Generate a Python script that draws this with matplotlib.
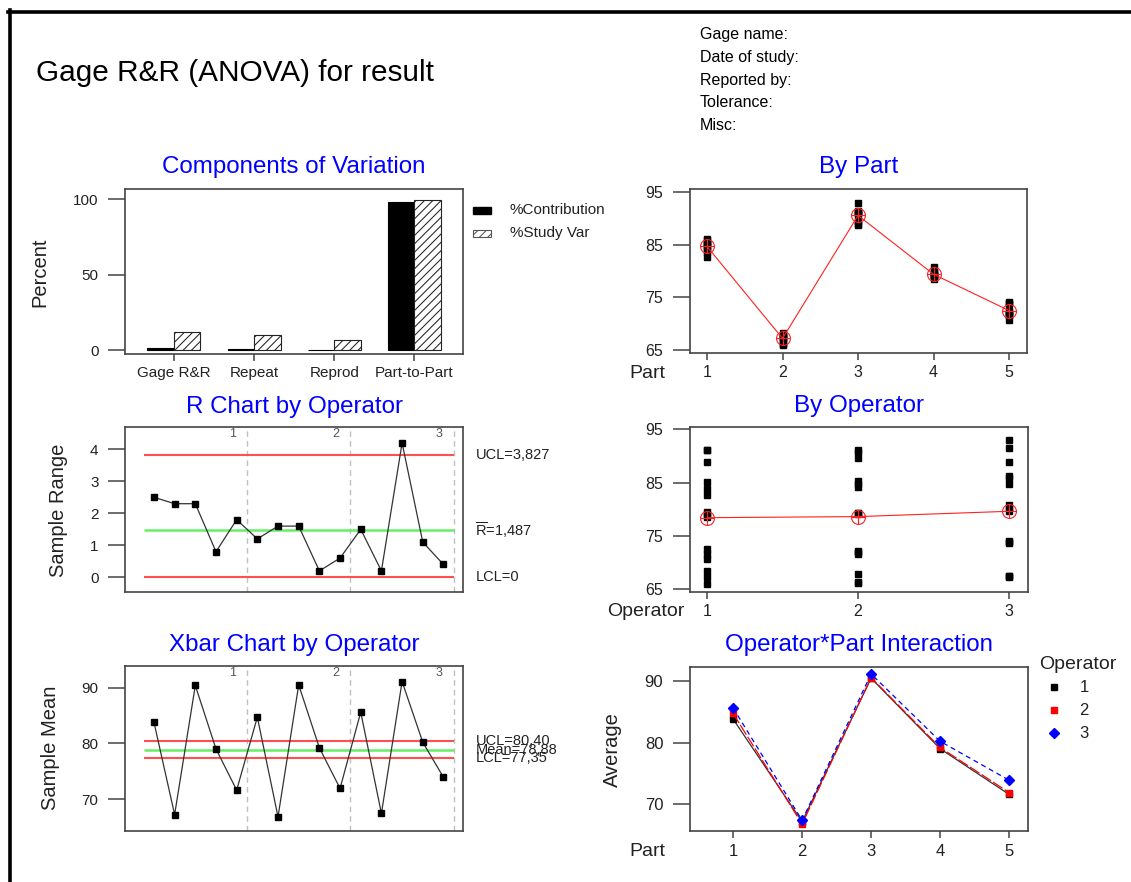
import numpy as np
import matplotlib
matplotlib.use("Agg")
import matplotlib.pyplot as plt
from matplotlib.patches import Rectangle
from matplotlib.lines import Line2D

plt.rcParams['font.family'] = ['Liberation Sans', 'DejaVu Sans']
plt.rcParams['mathtext.fontset'] = 'custom'
plt.rcParams['mathtext.rm'] = 'Liberation Sans'
plt.rcParams['hatch.linewidth'] = 0.75

# ---------------- data ----------------
main_title = "Gage R&R (ANOVA) for result"
header_fields = ["Gage name:", "Date of study:", "Reported by:", "Tolerance:", "Misc:"]

components = ["Gage R&R", "Repeat", "Reprod", "Part-to-Part"]
pct_contribution = [1.45, 1.0, 0.45, 98.5]
pct_study_var = [12.0, 9.9, 6.6, 99.2]

operators = [1, 2, 3]
parts = [1, 2, 3, 4, 5]

# sample ranges (per operator, parts 1..5)
range_op1 = [2.5, 2.3, 2.3, 0.8, 1.8]
range_op2 = [1.2, 1.6, 1.6, 0.2, 0.6]
range_op3 = [1.5, 0.2, 4.2, 1.1, 0.4]
r_ucl, r_center, r_lcl = 3.827, 1.487, 0.0
r_labels = ["UCL=3,827", r"$\overline{\mathrm{R}}$=1,487", "LCL=0"]

# sample means (per operator, parts 1..5)
xbar_op1 = [83.8, 67.2, 90.4, 79.0, 71.6]
xbar_op2 = [84.7, 66.8, 90.5, 79.2, 71.9]
xbar_op3 = [85.6, 67.4, 91.1, 80.2, 73.9]
x_ucl, x_center, x_lcl = 80.40, 78.88, 77.35
x_labels = ["UCL=80,40", "Mean=78,88", "LCL=77,35"]

# individual measurements (3 replicates for parts 1..5)
meas_op1 = [82.6, 83.7, 85.1, 66.0, 68.3, 67.3, 88.9, 91.2, 91.1,
            78.6, 79.4, 79.0, 70.7, 72.5, 71.6]
meas_op2 = [84.1, 85.3, 84.7, 66.2, 67.8, 66.4, 89.6, 91.2, 90.7,
            79.1, 79.3, 79.2, 71.6, 72.2, 71.9]
meas_op3 = [84.7, 86.2, 85.9, 67.3, 67.5, 67.4, 88.8, 93.0, 91.5,
            79.6, 80.7, 80.3, 73.7, 74.1, 73.9]

part_means = [84.7, 67.2, 90.6, 79.4, 72.5]
operator_means = [78.4, 78.6, 79.6]

# ---------------- figure ----------------
W, H = 1131, 882
fig = plt.figure(figsize=(W / 100, H / 100), dpi=100)
fig.patch.set_facecolor('white')

def add_ax(x0, y0, x1, y1):
    return fig.add_axes([x0 / W, 1 - y1 / H, (x1 - x0) / W, (y1 - y0) / H])

def ftext(px, py, s, **kw):
    kw.setdefault('va', 'center')
    return fig.text(px / W, 1 - py / H, s, **kw)

EDGE = '#444444'
TXT = '#222222'

def style(ax, xticks=True, ysize=11, xsize=11):
    for sp in ax.spines.values():
        sp.set_color(EDGE)
        sp.set_linewidth(1.2)
    ax.tick_params(axis='y', length=12, width=1.1, color=EDGE, pad=7,
                   labelsize=ysize, labelcolor=TXT)
    if xticks:
        ax.tick_params(axis='x', length=5.3, width=1.1, color=EDGE, pad=3,
                       labelsize=xsize, labelcolor=TXT)
    else:
        ax.tick_params(axis='x', length=0, labelbottom=False)

# figure border (top and left)
fig.add_artist(Line2D([8 / W, 1.0], [1 - 12 / H, 1 - 12 / H], color='black',
                      lw=2.6, transform=fig.transFigure))
fig.add_artist(Line2D([10 / W, 10 / W], [1 - 10 / H, 0.0], color='black',
                      lw=2.6, transform=fig.transFigure))

# header
ftext(36, 73, main_title, fontsize=21.4, ha='left', color='black')
for i, s in enumerate(header_fields):
    ftext(700, 35 + i * 22.5, s, fontsize=11.5, ha='left', color='black')

BLUE = '#0000ff'
RED = '#ff5050'
GREEN = '#66ee66'
TSIZE = 17.4

# ---------------- Components of Variation ----------------
ax1 = add_ax(125, 189.3, 463.3, 354.3)
xc = np.arange(len(components))
bw = 0.33
ax1.bar(xc - bw / 2, pct_contribution, width=bw, color='black',
        edgecolor='black', linewidth=0.8)
ax1.bar(xc + bw / 2, pct_study_var, width=bw, color='white',
        edgecolor='#222222', hatch='////', linewidth=0.8)
ax1.set_xlim(-0.61, 3.61)
ax1.set_ylim(-2.65, 106.6)
ax1.set_yticks([0, 50, 100])
ax1.set_xticks(xc)
ax1.set_xticklabels(components)
style(ax1)
ftext(294, 167, "Components of Variation", fontsize=TSIZE, ha='center', color=BLUE)
ftext(39.5, 272, "Percent", fontsize=14.5, ha='center', rotation=90, color=TXT)
# legend
fig.add_artist(Rectangle((472.7 / W, 1 - 213.5 / H), 18 / W, 7 / H,
                         facecolor='black', edgecolor='black',
                         transform=fig.transFigure))
fig.add_artist(Rectangle((472.7 / W, 1 - 236.5 / H), 18 / W, 7 / H,
                         facecolor='white', edgecolor='#555555', hatch='////',
                         lw=0.8, transform=fig.transFigure))
ftext(510, 209.5, "%Contribution", fontsize=11, ha='left', color=TXT)
ftext(510, 232.5, "%Study Var", fontsize=11, ha='left', color=TXT)

# ---------------- R chart ----------------
ranges = range_op1 + range_op2 + range_op3
pos = np.arange(1, len(ranges) + 1)
ax2 = add_ax(125, 427.3, 463.3, 592.3)
bounds = [5.5, 10.5, 15.5]
for b in bounds:
    ax2.axvline(b, color='#c0c0c0', ls=(0, (4, 3)), lw=1)
ax2.hlines([r_ucl, r_lcl], 0.5, 15.5, color=RED, lw=1.5)
ax2.hlines([r_center], 0.5, 15.5, color=GREEN, lw=1.8)
ax2.plot(pos, ranges, color='#333333', lw=0.9, marker='s', ms=5,
         mfc='black', mec='black')
ax2.set_xlim(-0.40, 15.96)
ax2.set_ylim(-0.469, 4.688)
ax2.set_yticks([0, 1, 2, 3, 4])
style(ax2, xticks=False)
for b, op in zip(bounds, operators):
    ax2.text(b - 0.7, 0.962, str(op), transform=ax2.get_xaxis_transform(),
             ha='center', va='center', fontsize=9, color='#555555')
for v, s in zip([r_ucl, r_center, r_lcl], r_labels):
    ax2.text(1.036, v, s, transform=ax2.get_yaxis_transform(), ha='left',
             va='center', fontsize=10.5, color=TXT, clip_on=False)
ftext(294, 406.5, "R Chart by Operator", fontsize=TSIZE, ha='center', color=BLUE)
ftext(59, 510, "Sample Range", fontsize=14.5, ha='center', rotation=90, color=TXT)

# ---------------- Xbar chart ----------------
xbars = xbar_op1 + xbar_op2 + xbar_op3
ax3 = add_ax(125, 666, 463.3, 831)
for b in bounds:
    ax3.axvline(b, color='#c0c0c0', ls=(0, (4, 3)), lw=1)
ax3.hlines([x_ucl, x_lcl], 0.5, 15.5, color=RED, lw=1.5)
ax3.hlines([x_center], 0.5, 15.5, color=GREEN, lw=1.8)
ax3.plot(pos, xbars, color='#333333', lw=0.9, marker='s', ms=5,
         mfc='black', mec='black')
ax3.set_xlim(-0.40, 15.96)
ax3.set_ylim(64.25, 93.9)
ax3.set_yticks([70, 80, 90])
style(ax3, xticks=False)
for b, op in zip(bounds, operators):
    ax3.text(b - 0.7, 0.959, str(op), transform=ax3.get_xaxis_transform(),
             ha='center', va='center', fontsize=9, color='#555555')
for v, s in zip([x_ucl, x_center, x_lcl], x_labels):
    ax3.text(1.036, v, s, transform=ax3.get_yaxis_transform(), ha='left',
             va='center', fontsize=10.5, color=TXT, clip_on=False)
ftext(294, 645, "Xbar Chart by Operator", fontsize=TSIZE, ha='center', color=BLUE)
ftext(50, 748, "Sample Mean", fontsize=14.5, ha='center', rotation=90, color=TXT)

# ---------------- By Part ----------------
ax4 = add_ax(689.7, 189, 1027.4, 353.3)
for meas in (meas_op1, meas_op2, meas_op3):
    ax4.plot(np.repeat(parts, 3), meas, 's', color='black', ms=4.8, ls='none')
ax4.plot(parts, part_means, color='#ff2020', lw=0.8)
ax4.plot(parts, part_means, 'o', mfc='none', mec='#ff2020', ms=10, mew=0.8)
ax4.plot(parts, part_means, '+', color='#ff2020', ms=10, mew=0.8)
ax4.set_xlim(0.771, 5.242)
ax4.set_ylim(64.37, 95.63)
ax4.set_yticks([65, 75, 85, 95])
ax4.set_xticks(parts)
style(ax4, ysize=11.5, xsize=11.5)
ftext(858.6, 167.3, "By Part", fontsize=TSIZE, ha='center', color=BLUE)
ftext(647.4, 373, "Part", fontsize=14, ha='center', color=TXT)

# ---------------- By Operator ----------------
ax5 = add_ax(689.7, 427.3, 1028.4, 592.3)
for op, meas in zip(operators, (meas_op1, meas_op2, meas_op3)):
    ax5.plot([op] * len(meas), meas, 's', color='black', ms=4.8, ls='none')
ax5.plot(operators, operator_means, color='#ff2020', lw=0.8)
ax5.plot(operators, operator_means, 'o', mfc='none', mec='#ff2020', ms=10, mew=0.8)
ax5.plot(operators, operator_means, '+', color='#ff2020', ms=10, mew=0.8)
ax5.set_xlim(0.885, 3.128)
ax5.set_ylim(64.38, 95.38)
ax5.set_yticks([65, 75, 85, 95])
ax5.set_xticks(operators)
style(ax5, ysize=11.5, xsize=11.5)
ftext(858.6, 405.7, "By Operator", fontsize=TSIZE, ha='center', color=BLUE)
ftext(645.7, 611.7, "Operator", fontsize=14, ha='center', color=TXT)

# ---------------- Interaction ----------------
ax6 = add_ax(689.7, 666.7, 1028.4, 831)
op_styles = [
    dict(color='#333333', ls='-', marker='s', mfc='black', mec='black', ms=5),
    dict(color='red', ls=(0, (9, 2)), marker='s', mfc='red', mec='red', ms=5),
    dict(color='blue', ls=(0, (4, 3)), marker='D', mfc='blue', mec='blue', ms=5),
]
for xb, st in zip((xbar_op1, xbar_op2, xbar_op3), op_styles):
    ax6.plot(parts, xb, lw=0.9, **st)
ax6.set_xlim(0.371, 5.28)
ax6.set_ylim(65.68, 92.27)
ax6.set_yticks([70, 80, 90])
ax6.set_xticks(parts)
style(ax6, ysize=12, xsize=12)
ax6.tick_params(axis='x', pad=4)
ftext(858.6, 645, "Operator*Part Interaction", fontsize=TSIZE, ha='center', color=BLUE)
ftext(647.4, 851.7, "Part", fontsize=14, ha='center', color=TXT)
ftext(612, 750, "Average", fontsize=14.5, ha='center', rotation=90, color=TXT)
# legend
ftext(1077.5, 664.3, "Operator", fontsize=14, ha='center', color=TXT)
for i, (op, st) in enumerate(zip(operators, op_styles)):
    yy = 687.3 + i * 23
    fig.add_artist(Line2D([1053.8 / W], [1 - yy / H], marker=st['marker'],
                          mfc=st['mfc'], mec=st['mec'], ms=5, ls='none',
                          transform=fig.transFigure))
    ftext(1084, yy, str(op), fontsize=12, ha='center', color=TXT)

fig.savefig("out.png", dpi=100, facecolor='white')
